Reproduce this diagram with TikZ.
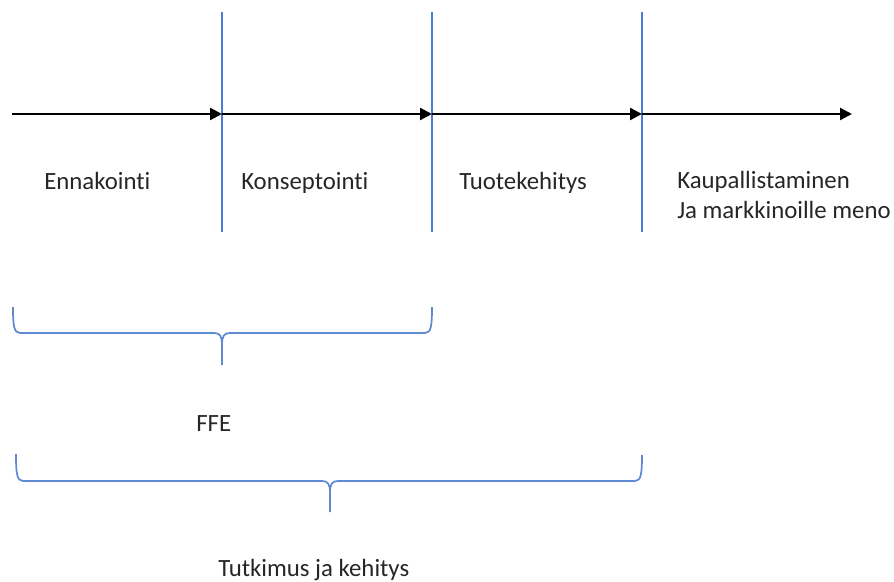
\documentclass[tikz,border=0pt]{standalone}
\usepackage{fontspec}
\setmainfont{Carlito}[Ligatures=NoCommon]
\usetikzlibrary{arrows.meta}
\definecolor{inkgray}{HTML}{262626}
\definecolor{phaseblue}{HTML}{4A7BD6}
\definecolor{braceblue}{HTML}{5F8AD2}
\begin{document}
\begin{tikzpicture}[x=0.75pt,y=-0.75pt,
  timeline/.style={line width=1.8pt,black,-{Triangle[length=9pt,width=9pt]}},
  divider/.style={line width=0.9pt,phaseblue},
  bracepath/.style={line width=1.3pt,braceblue,line join=round},
  label/.style={inner sep=0pt,anchor=base west,text=inkgray,font=\fontsize{18.6}{22}\selectfont}]
\useasboundingbox (0,0) rectangle (894,582);

% points on the time axis
\coordinate (t0) at (12,114);
\coordinate (t1) at (222,114);
\coordinate (t2) at (432,114);
\coordinate (t3) at (642,114);
\coordinate (t4) at (852,114);

% phase dividers
\foreach \x/\n in {222/1,432/2,642/3}{
  \coordinate (d\n top) at (\x,12);
  \coordinate (d\n bot) at (\x,232);
  \draw[divider] (d\n top) -- (d\n bot);
}

% arrows of the time axis
\draw[timeline] (t0) -- (t1);
\draw[timeline] (t1) -- (t2);
\draw[timeline] (t2) -- (t3);
\draw[timeline] (t3) -- (t4);

% phase names
\node[label] (ennak) at (44,189) {Ennakointi};
\node[label] (konsep) at (241,189) {Konseptointi};
\node[label] (tuote) at (459,189) {Tuotekehitys};
\node[label] (kaupA) at (677,188) {Kaupallistaminen};
\node[label] (kaupB) at (677,218) {Ja markkinoille meno};

% brace over the first two phases
\draw[bracepath]
  (13,307) .. controls (13,326) and (14,333) .. (20,333)
  -- (214,333) .. controls (220,333) and (222,336) .. (222,345)
  -- (222,365);
\draw[bracepath]
  (432,307) .. controls (432,326) and (431,333) .. (425,333)
  -- (230,333) .. controls (224,333) and (222,336) .. (222,345);
\node[label] (ffe) at (196,431) {FFE};

% brace over the first three phases
\draw[bracepath]
  (16,454) .. controls (16,474) and (17,481) .. (23,481)
  -- (322,481) .. controls (328,481) and (330,484) .. (330,493)
  -- (330,512);
\draw[bracepath]
  (642,455) .. controls (642,474) and (641,481) .. (635,481)
  -- (338,481) .. controls (332,481) and (330,484) .. (330,493);
\node[label] (tk) at (218,576) {Tutkimus ja kehitys};
\end{tikzpicture}
\end{document}
